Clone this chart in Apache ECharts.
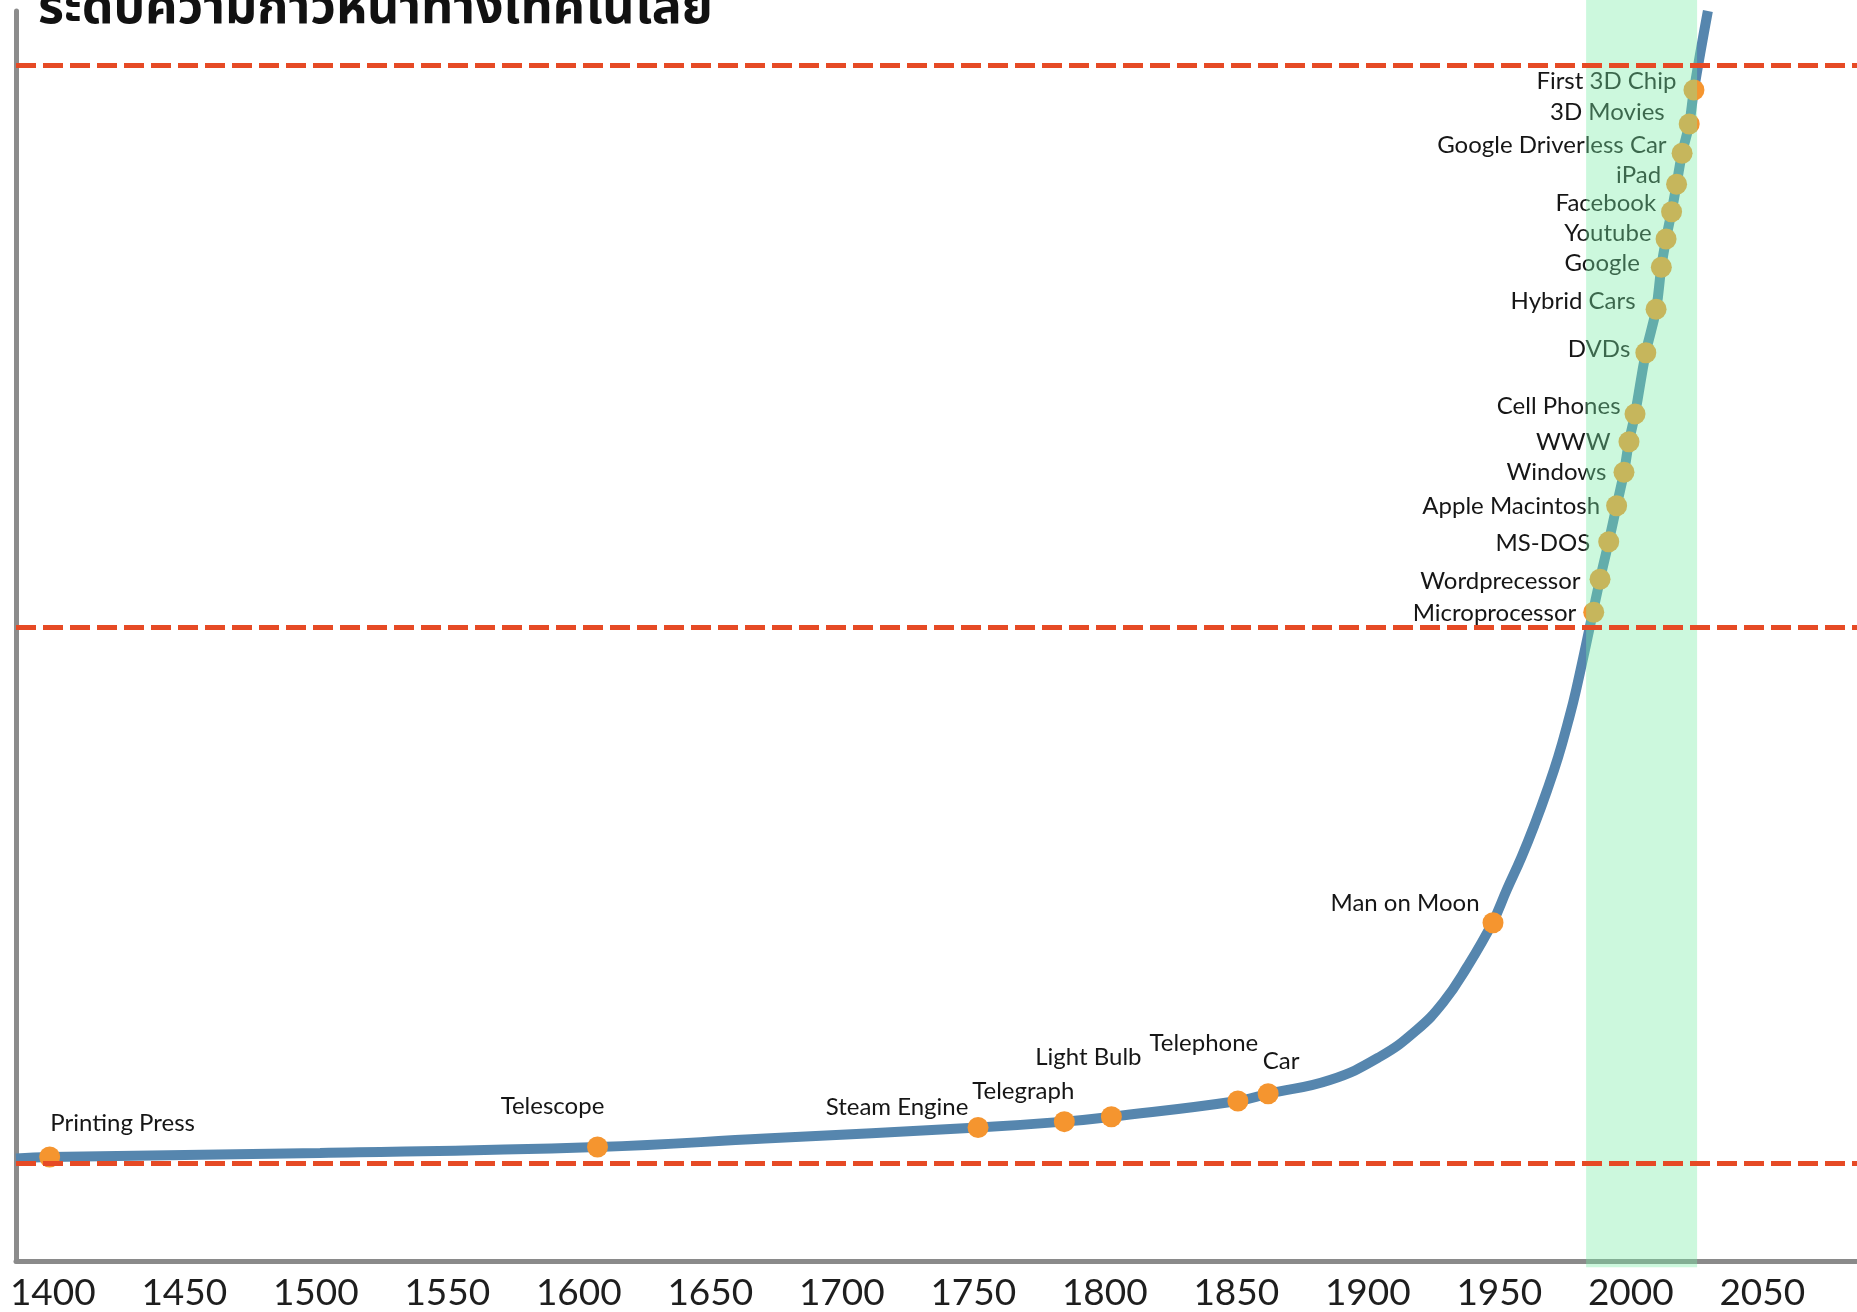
<!DOCTYPE html>
<html>
<head>
<meta charset="utf-8">
<title>Technology progress</title>
<script src="https://cdn.jsdelivr.net/npm/echarts@6/dist/echarts.min.js"></script>
<style>
  html, body { margin: 0; padding: 0; background: #fff; }
  #chart { width: 1857px; height: 1312px; }
</style>
</head>
<body>
<div id="chart"></div>
<script>
// events along the curve (year, level)
const eventNames = [
  'Printing Press', 'Telescope', 'Steam Engine', 'Telegraph', 'Light Bulb',
  'Telephone', 'Car', 'Man on Moon', 'Microprocessor', 'Wordprecessor',
  'MS-DOS', 'Apple Macintosh', 'Windows', 'WWW', 'Cell Phones', 'DVDs',
  'Hybrid Cars', 'Google', 'Youtube', 'Facebook', 'iPad',
  'Google Driverless Car', '3D Movies', 'First 3D Chip'
];
const eventYears = [
  1398.8, 1607.1, 1751.8, 1784.6, 1802.5,
  1850.6, 1862.1, 1947.6, 1985.9, 1988.3,
  1991.6, 1994.6, 1997.4, 1999.3, 2001.6, 2005.7,
  2009.6, 2011.6, 2013.4, 2015.5, 2017.4,
  2019.5, 2022.2, 2024.0
];
const eventLevels = [
  8.32, 9.12, 10.68, 11.15, 11.54,
  12.8, 13.38, 27.06, 51.9, 54.54,
  57.54, 60.42, 63.1, 65.54, 67.76, 72.66,
  76.14, 79.5, 81.76, 83.94, 86.14,
  88.62, 90.96, 93.68
];

// the blue curve, read along the middle of its stroke
const curveYears = [
  1386, 1398.8, 1501.6, 1607.1, 1670.8, 1751.8, 1784.6, 1802.5, 1850.6, 1862.1,
  1885.6, 1904.6, 1918.6, 1928.7, 1937.7, 1947.5, 1952.8, 1958.5, 1963.6, 1968.2,
  1972.4, 1976.0, 1979.2, 1988.3, 1991.6, 1994.6, 1997.4, 1999.3, 2001.6, 2005.7,
  2009.6, 2011.6, 2013.4, 2015.5, 2017.4, 2019.5, 2022.2, 2024.0, 2029.3
];
const curveLevels = [
  8.2, 8.32, 8.64, 9.12, 9.8, 10.68, 11.15, 11.54, 12.8, 13.38,
  14.48, 16.34, 18.48, 20.7, 23.5, 27.1, 29.68, 32.34, 35.02, 37.68,
  40.34, 43.02, 45.68, 54.54, 57.54, 60.42, 63.1, 65.54, 67.76, 72.66,
  76.14, 79.5, 81.76, 83.94, 86.14, 88.62, 90.96, 93.68, 100
];

// reference levels (dashed lines) and highlighted period
const thresholdLevels = [95.68, 50.72, 7.84];
const bandYears = [1983, 2025.2];

const xTickLabels = [1400, 1450, 1500, 1550, 1600, 1650, 1700, 1750, 1800, 1850, 1900, 1950, 2000, 2050];

const titleText = 'ระดับความก้าวหน้าทางเทคโนโลยี';

// label placement per event: [position, dx, dy]
const labelPlace = {
  'Printing Press': ['inside', 73, -34],
  'Telescope': ['inside', -45, -41],
  'Steam Engine': ['inside', -81, -20],
  'Telegraph': ['inside', -41, -30],
  'Light Bulb': ['inside', -23, -59],
  'Telephone': ['inside', -34, -58],
  'Car': ['inside', 13, -32],
  'Man on Moon': ['inside', -88, -19],
  'Microprocessor': ['left', -2, 1],
  'Wordprecessor': ['left', -4, 2],
  'MS-DOS': ['left', -3, 2],
  'Apple Macintosh': ['left', -1, 1],
  'Windows': ['left', -2, 0],
  'WWW': ['left', -3, 1],
  'Cell Phones': ['left', 1, -8],
  'DVDs': ['left', 0, -3],
  'Hybrid Cars': ['left', -5, -8],
  'Google': ['left', -6, -4],
  'Youtube': ['left', 1, -6],
  'Facebook': ['left', 0, -8],
  'iPad': ['left', 0, -9],
  'Google Driverless Car': ['left', 0, -8],
  '3D Movies': ['left', -9, -12],
  'First 3D Chip': ['left', -2, -9]
};

const chart = echarts.init(document.getElementById('chart'));

const eventData = eventNames.map((name, i) => {
  const p = labelPlace[name];
  return {
    name: name,
    value: [eventYears[i], eventLevels[i]],
    label: { position: p[0], offset: [p[1], p[2]] }
  };
});

const curveData = curveYears.map((x, i) => [x, curveLevels[i]]);

const option = {
  animation: false,
  title: {
    text: titleText,
    left: 33,
    top: -17,
    textStyle: {
      fontFamily: "'Noto Sans Thai', 'Noto Sans Thai Looped', Loma, Garuda, 'Noto Sans', sans-serif",
      fontWeight: 'bold',
      fontSize: 50,
      color: '#111'
    }
  },
  grid: { left: 16, right: 0, top: 11, bottom: 51 },
  xAxis: {
    type: 'value',
    min: 1386,
    max: 2086,
    axisLine: { show: true, lineStyle: { color: '#8a8a8a', width: 5 } },
    axisTick: { show: false },
    splitLine: { show: false },
    axisLabel: {
      customValues: xTickLabels,
      formatter: v => String(v),
      margin: 14,
      fontSize: 37,
      fontFamily: 'Lato',
      color: '#1e1e1e'
    }
  },
  yAxis: {
    type: 'value',
    min: 0,
    max: 100,
    axisLine: { show: true, lineStyle: { color: '#8c8c8c', width: 5 } },
    axisTick: { show: false },
    axisLabel: { show: false },
    splitLine: { show: false }
  },
  series: [
    {
      name: 'curve',
      type: 'line',
      data: curveData,
      smooth: 0.45,
      showSymbol: false,
      z: 2,
      lineStyle: { color: '#5686ae', width: 10 }
    },
    {
      name: 'events',
      type: 'scatter',
      data: eventData,
      symbolSize: 21,
      z: 3,
      itemStyle: { color: '#f5952f', opacity: 1 },
      label: {
        show: true,
        formatter: '{b}',
        distance: 5,
        fontFamily: 'Lato',
        fontSize: 24,
        color: '#161616'
      }
    },
    {
      name: 'band',
      type: 'custom',
      z: 4,
      clip: false,
      data: [bandYears],
      renderItem: function (params, api) {
        const p0 = api.coord([api.value(0), 100.9]);
        const p1 = api.coord([api.value(1), -0.5]);
        return {
          type: 'rect',
          shape: { x: p0[0], y: p0[1], width: p1[0] - p0[0], height: p1[1] - p0[1] },
          style: { fill: 'rgba(121, 237, 166, 0.38)' }
        };
      },
      markLine: {
        silent: true,
        symbol: 'none',
        z: 6,
        label: { show: false },
        lineStyle: { color: '#e64a25', width: 5, type: [20, 7] },
        data: thresholdLevels.map(v => ({ yAxis: v }))
      }
    }
  ]
};

chart.setOption(option);
</script>
</body>
</html>
